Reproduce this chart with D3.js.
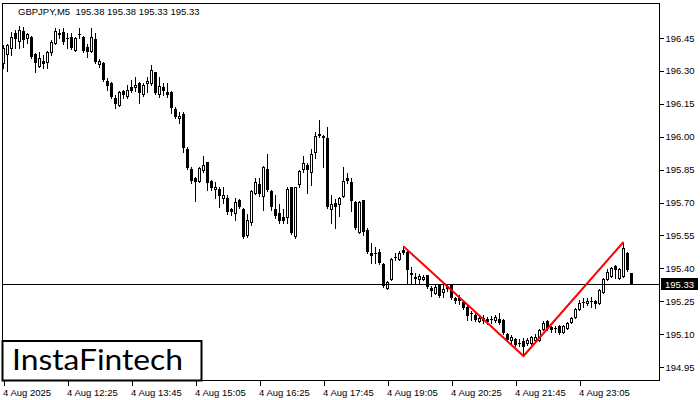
<!DOCTYPE html>
<html><head><meta charset="utf-8">
<script src="https://cdn.jsdelivr.net/npm/d3@7"></script>
<style>body{margin:0;background:#fff;}svg{display:block;}</style>
</head><body>
<svg id="c" width="700" height="400"></svg>
<script>
const symbolTitle = "GBPJPY,M5  195.38 195.38 195.33 195.33";
const startTime = "2025-08-04T11:05:00";
const stepMinutes = 5;

const openP = [
196.336,196.377,196.404,196.473,196.436,196.482,196.450,196.455,196.377,196.322,
196.345,196.341,196.386,196.427,196.468,196.477,196.450,196.455,196.395,196.468,
196.455,196.409,196.391,196.445,196.331,196.336,196.254,196.245,196.176,196.144,
196.208,196.185,196.227,196.227,196.245,196.195,196.245,196.245,196.295,196.195,
196.227,196.204,196.204,196.126,196.085,196.103,195.944,195.853,195.812,195.798,
195.848,195.885,195.798,195.762,195.762,195.720,195.720,195.670,195.652,195.711,
195.670,195.552,195.611,195.743,195.784,195.730,195.853,195.752,195.670,195.652,
195.634,195.634,195.771,195.547,195.784,195.853,195.871,195.839,195.930,196.008,
195.999,195.994,195.670,195.698,195.693,195.730,195.812,195.794,195.702,195.565,
195.711,195.575,195.470,195.470,195.474,195.419,195.310,195.351,195.451,195.442,
195.483,195.474,195.378,195.360,195.351,195.351,195.369,195.310,195.287,195.324,
195.292,195.319,195.324,195.264,195.264,195.246,195.223,195.196,195.187,195.160,
195.173,195.169,195.169,195.164,195.169,195.164,195.100,195.073,195.078,195.059,
195.068,195.059,195.059,195.073,195.073,195.123,195.160,195.132,195.128,195.137,
195.109,195.128,195.155,195.178,195.214,195.246,195.242,195.251,195.251,195.242,
195.292,195.351,195.365,195.410,195.356,195.365,195.470,195.380
];
const highP = [
196.418,196.423,196.477,196.487,196.505,196.500,196.473,196.459,196.382,196.386,
196.373,196.391,196.441,196.496,196.491,196.496,196.473,196.473,196.455,196.496,
196.459,196.423,196.496,196.473,196.354,196.341,196.268,196.249,196.190,196.208,
196.213,196.236,196.259,196.272,196.249,196.245,196.272,196.327,196.295,196.272,
196.245,196.245,196.208,196.135,196.112,196.112,195.953,195.862,195.816,195.862,
195.912,195.885,195.803,195.794,195.771,195.771,195.734,195.675,195.720,195.716,
195.675,195.647,195.757,195.812,195.812,195.866,195.921,195.757,195.734,195.693,
195.670,195.771,195.771,195.771,195.848,195.912,195.880,195.944,196.021,196.076,
196.008,196.044,195.734,195.716,195.725,195.862,195.835,195.812,195.707,195.707,
195.711,195.584,195.515,195.497,195.488,195.424,195.342,195.447,195.470,195.479,
195.501,195.479,195.406,195.378,195.374,195.369,195.369,195.319,195.324,195.328,
195.324,195.328,195.328,195.269,195.278,195.251,195.233,195.205,195.196,195.187,
195.187,195.178,195.182,195.187,195.196,195.169,195.105,195.096,195.082,195.078,
195.082,195.082,195.091,195.100,195.123,195.160,195.164,195.137,195.137,195.141,
195.141,195.155,195.178,195.219,195.255,195.264,195.264,195.269,195.255,195.306,
195.356,195.397,195.406,195.415,195.401,195.515,195.474,195.380
];
const lowP = [
196.313,196.300,196.373,196.404,196.404,196.409,196.427,196.359,196.295,196.318,
196.313,196.313,196.373,196.423,196.450,196.423,196.404,196.400,196.391,196.450,
196.386,196.363,196.386,196.336,196.318,196.254,196.213,196.176,196.131,196.140,
196.176,196.176,196.204,196.208,196.154,196.185,196.204,196.236,196.195,196.181,
196.190,196.181,196.108,196.085,196.062,195.930,195.853,195.789,195.707,195.794,
195.839,195.757,195.757,195.720,195.679,195.698,195.647,195.643,195.620,195.675,
195.538,195.543,195.597,195.739,195.730,195.666,195.752,195.666,195.629,195.606,
195.606,195.606,195.556,195.538,195.771,195.839,195.743,195.780,195.903,195.999,
195.862,195.675,195.606,195.584,195.638,195.725,195.789,195.661,195.579,195.561,
195.552,195.470,195.424,195.424,195.419,195.315,195.306,195.347,195.438,195.438,
195.465,195.328,195.328,195.333,195.333,195.347,195.310,195.274,195.283,195.269,
195.269,195.296,195.260,195.242,195.237,195.214,195.164,195.164,195.160,195.155,
195.150,195.146,195.150,195.155,195.146,195.100,195.068,195.059,195.046,195.046,
195.000,195.050,195.055,195.068,195.068,195.119,195.119,195.109,195.109,195.100,
195.105,195.123,195.150,195.173,195.210,195.223,195.233,195.223,195.219,195.237,
195.287,195.347,195.360,195.356,195.351,195.360,195.388,195.330
];
const closeP = [
196.404,196.418,196.455,196.445,196.487,196.441,196.468,196.363,196.336,196.359,
196.331,196.386,196.432,196.482,196.473,196.432,196.450,196.404,196.450,196.468,
196.391,196.386,196.455,196.341,196.345,196.259,196.231,196.181,196.149,196.204,
196.190,196.213,196.208,196.236,196.199,196.236,196.254,196.304,196.199,196.231,
196.208,196.190,196.131,196.090,196.094,195.949,195.857,195.798,195.794,195.857,
195.871,195.789,195.766,195.771,195.730,195.734,195.657,195.657,195.702,195.679,
195.543,195.620,195.752,195.794,195.739,195.862,195.757,195.679,195.638,195.615,
195.615,195.762,195.561,195.771,195.844,195.880,195.848,195.921,196.003,196.012,
196.003,195.679,195.693,195.679,195.720,195.798,195.798,195.707,195.584,195.702,
195.565,195.474,195.456,195.470,195.424,195.319,195.338,195.442,195.451,195.470,
195.470,195.392,195.369,195.351,195.365,195.360,195.315,195.296,195.315,195.274,
195.306,195.306,195.264,195.251,195.251,195.219,195.182,195.196,195.164,195.173,
195.160,195.155,195.169,195.178,195.150,195.105,195.073,195.087,195.050,195.059,
195.041,195.073,195.087,195.087,195.119,195.150,195.123,195.119,195.128,195.105,
195.137,195.150,195.173,195.214,195.242,195.246,195.251,195.251,195.237,195.301,
195.351,195.383,195.401,195.392,195.397,195.492,195.392,195.330
];

const priceTicks = [196.45,196.30,196.15,196.00,195.85,195.70,195.55,195.40,195.25,195.10,194.95];
const timeTickTimes = ["2025-08-04T11:05:00","2025-08-04T12:25:00","2025-08-04T13:45:00","2025-08-04T15:05:00","2025-08-04T16:25:00","2025-08-04T17:45:00","2025-08-04T19:05:00","2025-08-04T20:25:00","2025-08-04T21:45:00","2025-08-04T23:05:00"];
const timeTickLabels = ["4 Aug 2025","4 Aug 12:25","4 Aug 13:45","4 Aug 15:05","4 Aug 16:25","4 Aug 17:45","4 Aug 19:05","4 Aug 20:25","4 Aug 21:45","4 Aug 23:05"];
const currentPrice = 195.33;
const patternTimes = ["2025-08-04T19:25:00","2025-08-04T21:55:00","2025-08-05T00:00:00"];
const patternPrices = [195.50, 195.00, 195.52];
const logoText = "InstaFintech";

const n = Math.min(openP.length, highP.length, lowP.length, closeP.length);
const t0 = new Date(startTime);
const candles = d3.range(n).map(i => ({
  t: d3.timeMinute.offset(t0, i * stepMinutes),
  o: openP[i], h: highP[i], l: lowP[i], c: closeP[i]
}));

const svg = d3.select("#c");
const FONT = "'Liberation Sans', Arial, sans-serif";
const L = 2.5, R = 659.5, T = 3.5, B = 380.5;

const x = d3.scaleTime().domain([candles[0].t, candles[n-1].t]).range([3.5, 3.5 + 4*(n-1)]);
const y = d3.scaleLinear().domain([194.95, 196.45]).range([367, 38]);

svg.append("rect").attr("width",700).attr("height",400).attr("fill","#fff");

// frame
svg.append("rect").attr("x",L).attr("y",T).attr("width",R-L).attr("height",B-T)
  .attr("fill","none").attr("stroke","#000").attr("stroke-width",1).attr("shape-rendering","crispEdges");

// title
svg.append("text").attr("x",18).attr("y",15).attr("font-family",FONT).attr("font-size",9.5)
  .attr("fill","#000").text(symbolTitle).attr("xml:space","preserve").style("white-space","pre");

// candles
const g = svg.append("g").attr("shape-rendering","crispEdges");
candles.forEach(d => {
  const cx = Math.round(x(d.t) - 0.5) + 0.5;
  g.append("line").attr("x1",cx).attr("x2",cx)
    .attr("y1",Math.round(y(d.h))).attr("y2",Math.round(y(d.l))+1)
    .attr("stroke","#000").attr("stroke-width",1);
  const yo = Math.round(y(d.o)), yc = Math.round(y(d.c));
  if (d.c < d.o) {
    g.append("rect").attr("x",cx-1.5).attr("y",yo).attr("width",3).attr("height",Math.max(yc-yo,1)+0)
      .attr("fill","#000");
  } else if (d.c > d.o && yo - yc >= 1) {
    g.append("rect").attr("x",cx-1).attr("y",yc+0.5).attr("width",2).attr("height",Math.max(yo-yc,1))
      .attr("fill","#fff").attr("stroke","#000").attr("stroke-width",1);
  } else {
    g.append("line").attr("x1",cx-1.5).attr("x2",cx+1.5).attr("y1",yo+0.5).attr("y2",yo+0.5)
      .attr("stroke","#000").attr("stroke-width",1);
  }
});

// current price line
svg.append("line").attr("x1",L).attr("x2",R).attr("y1",Math.round(y(currentPrice))+0.5).attr("y2",Math.round(y(currentPrice))+0.5)
  .attr("stroke","#000").attr("stroke-width",1).attr("shape-rendering","crispEdges");

// pattern line
const pts = patternTimes.map((t,i)=>[x(new Date(t)), y(patternPrices[i])]);
svg.append("path").attr("d", d3.line()(pts)).attr("fill","none").attr("stroke","#ff0000").attr("stroke-width",2);

// right axis
const ya = d3.axisRight(y).tickValues(priceTicks).tickFormat(d3.format(".2f")).tickSize(4).tickPadding(2);
const gy = svg.append("g").attr("transform",`translate(${R},0)`).call(ya);
gy.select(".domain").remove();
gy.selectAll("line").attr("stroke","#000").attr("shape-rendering","crispEdges");
gy.selectAll("text").attr("font-family",FONT).attr("font-size",9.5).attr("fill","#000");

// current price label
const cy = Math.round(y(currentPrice));
svg.append("rect").attr("x",661).attr("y",cy-6).attr("width",37).attr("height",12).attr("fill","#000");
svg.append("text").attr("x",665).attr("y",cy+4).attr("font-family",FONT).attr("font-size",9.5)
  .attr("fill","#fff").text(d3.format(".2f")(currentPrice));

// bottom axis
const tt = timeTickTimes.map(s=>new Date(s));
const xa = d3.axisBottom(x).tickValues(tt).tickFormat((d,i)=>timeTickLabels[i]).tickSize(5).tickPadding(4);
const gx = svg.append("g").attr("transform",`translate(0,${B})`).call(xa);
gx.select(".domain").remove();
gx.selectAll("line").attr("stroke","#000").attr("shape-rendering","crispEdges");
gx.selectAll("text").attr("font-family",FONT).attr("font-size",9.5).attr("fill","#000")
  .attr("text-anchor","start").attr("dx",-1);

// logo
svg.append("rect").attr("x",L).attr("y",341).attr("width",199).attr("height",B-341)
  .attr("fill","#fff").attr("stroke","#000").attr("stroke-width",2);
svg.append("text").attr("x",12).attr("y",370).attr("font-family","Lato, 'Open Sans', sans-serif")
  .attr("font-size",28).attr("fill","#000").attr("textLength",171).attr("lengthAdjust","spacingAndGlyphs")
  .text(logoText);
</script>
</body></html>
